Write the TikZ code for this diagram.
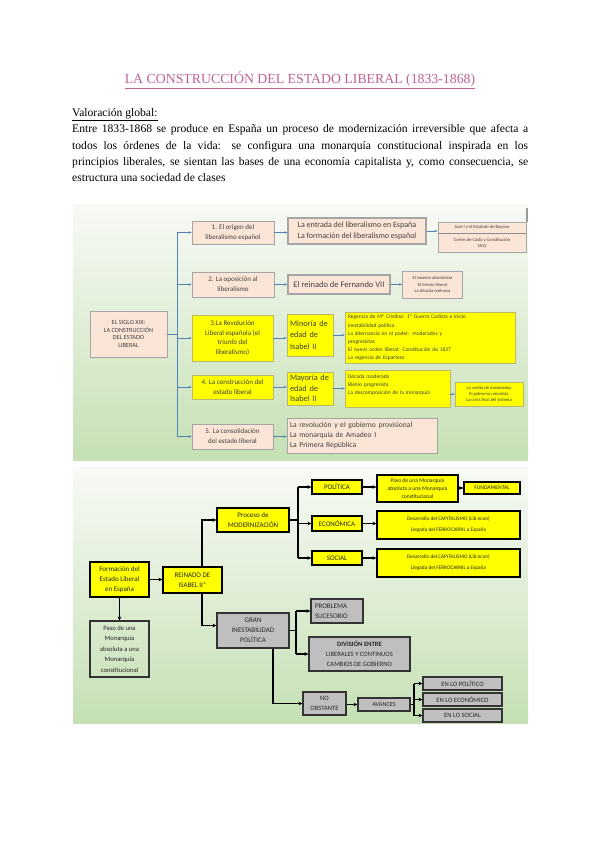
\documentclass[tikz,border=0pt]{standalone}
\usepackage{fontspec}
\setmainfont{Liberation Serif}
\newfontfamily\bxf{Carlito}
\usetikzlibrary{arrows.meta,calc}
\definecolor{titlepink}{RGB}{192,98,148}
\definecolor{peach}{RGB}{251,229,214}
\definecolor{pborder}{RGB}{165,165,165}
\definecolor{ybox}{RGB}{255,255,0}
\definecolor{yborder}{RGB}{185,185,110}
\definecolor{gbox}{RGB}{191,191,191}
\definecolor{arrowblue}{RGB}{79,129,189}
\definecolor{bgtop}{RGB}{248,250,246}
\definecolor{bgbot}{RGB}{197,224,180}
\definecolor{txtgray}{RGB}{64,64,64}
\newcommand\fz[2]{\fontsize{#1}{#2}\selectfont}
\begin{document}
\begin{tikzpicture}[x=1pt,y=-1pt,
  sz/.style 2 args={minimum width=#1pt,minimum height=#2pt},
  bx/.style={inner sep=0pt, align=center, font=\bxf},
  pch/.style={bx, draw=pborder, fill=peach, line width=0.8pt, text=txtgray},
  yel/.style={bx, draw=yborder, fill=ybox, line width=0.6pt, text=txtgray},
  yk/.style={bx, draw=black, fill=ybox, line width=1.1pt, text=black!85},
  gk/.style={bx, draw=black!80, fill=gbox, line width=1.1pt, text=black!85},
  ok/.style={bx, draw=black!80, line width=1.1pt, text=black!85},
  barr/.style={draw=arrowblue, line width=0.6pt, -{Stealth[length=3pt,width=2.4pt]}},
  bln/.style={draw=arrowblue, line width=0.6pt},
  karr/.style={draw=black, line width=1.3pt, -{Stealth[length=4pt,width=3.6pt]}},
  kln/.style={draw=black, line width=1.3pt},
]
\useasboundingbox (0,0) rectangle (600,848);
\fill[white] (0,0) rectangle (600,848);

% ---------- title and text ----------
\node[font=\fz{13.8}{16}, text=titlepink] (title) at (300,80)
  {\underline{LA CONSTRUCCIÓN DEL ESTADO LIBERAL (1833-1868)}};
\node[anchor=north west, text width=456pt, align=justify, inner sep=0pt,
  font=\fz{11.6}{16.2}] (intro) at (72,108.5)
  {\underline{Valoración global:}\\
   Entre 1833-1868 se produce en España un proceso de modernización irreversible que afecta a\linebreak
   todos los órdenes de la vida: se configura una monarquía constitucional inspirada en los\linebreak
   principios liberales, se sientan las bases de una economía capitalista y, como consecuencia, se\linebreak
   estructura una sociedad de clases};

% ---------- panel 1 ----------
\shade[top color=bgtop, bottom color=bgbot] (73,204) rectangle (528,460);
\fill[black!40] (526,208) rectangle (528,222);

\node[pch, sz={77}{46}, font=\bxf\fz{6.3}{7.6}] (root) at (128.5,334)
  {EL SIGLO XIX:\\ LA CONSTRUCCIÓN\\ DEL ESTADO\\ LIBERAL};
\node[pch, sz={82}{23}, font=\bxf\fz{7}{10}] (b1) at (233,232.5)
  {1. El origen del\\ liberalismo español};
\node[pch, sz={82}{25}, font=\bxf\fz{7}{10}] (b2) at (233,284.5)
  {2. La oposición al\\ liberalismo};
\node[yel, sz={81}{46}, font=\bxf\fz{7}{9.8}] (b3) at (232.5,338)
  {3.La Revolución\\ Liberal española (el\\ triunfo del\\ liberalismo)};
\node[yel, sz={81}{24}, font=\bxf\fz{7}{10}] (b4) at (232.5,387)
  {4. La construcción del\\ estado liberal};
\node[pch, sz={81}{25}, font=\bxf\fz{7}{10}] (b5) at (232.5,436.5)
  {5. La consolidación\\ del estado liberal};

\node[pch, sz={138}{26}, align=left, line width=1.1pt, font=\bxf\fz{8}{10.5}] (c1) at (357,231)
  {La entrada del liberalismo en España\\ La formación del liberalismo español};
\node[pch, sz={102}{19}, line width=1.1pt, font=\bxf\fz{8.5}{10}] (c2) at (339,284.5)
  {El reinado de Fernando VII};
\node[yel, sz={46}{42}, text width=40pt, align=left, font=\bxf\fz{8.3}{11.3}] (c3) at (310,335)
  {Minoría de\\ edad de\\ Isabel II};
\node[yel, sz={46}{33}, text width=40pt, align=left, font=\bxf\fz{8.3}{10.5}] (c4) at (310,388.5)
  {Mayoría de\\ edad de\\ Isabel II};
\node[pch, sz={150}{35}, text width=144pt, align=left, font=\bxf\fz{7.6}{9.6}] (c5) at (362,435.5)
  {La revolución y el gobierno provisional\\ La monarquía de Amadeo I\\ La Primera República};

\node[pch, sz={88}{11}, font=\bxf\fz{4.6}{5.5}] (d1a) at (482,227.5)
  {José I y el Estatuto de Bayona};
\node[pch, sz={88}{19}, font=\bxf\fz{4.6}{6.2}] (d1b) at (482,243)
  {Cortes de Cádiz y Constitución\\ 1812};
\draw[draw=black!45, line width=1.6pt] (d1a.south west) -- (d1a.south east);
\node[pch, sz={60}{27}, font=\bxf\fz{4.6}{6.4}] (d2) at (432.5,284.5)
  {El sexenio absolutista\\ El trienio liberal\\ La década ominosa};
\node[yel, sz={170}{51}, text width=164pt, align=left, font=\bxf\fz{5.5}{8.2}] (d3) at (430,338)
  {Regencia de Mª Cristina: 1ª Guerra Carlista e inicio\\ inestabilidad política\\
   La alternancia en el poder: moderados y\\ progresistas\\
   El nuevo orden liberal: Constitución de 1837\\ La regencia de Espartero};
\node[yel, sz={105}{37}, text width=99pt, align=left, font=\bxf\fz{5.5}{8}] (d4) at (397.5,388.5)
  {Década moderada\\ Bienio progresista\\ La descomposición de la monarquía\\ ~};
\node[yel, sz={68}{24}, font=\bxf\fz{4.6}{6.2}] (d5) at (489,394)
  {La vuelta de moderados\\ El gobierno unionista\\ La crisis final del sistema};

\coordinate (v1) at (177,0);
\draw[bln] (root.east) -- (root.east -| v1);
\draw[bln] (v1 |- b1.west) -- (v1 |- b5.west);
\foreach \n in {b1,b2,b3,b4,b5} \draw[barr] (v1 |- \n.west) -- (\n.west);
\draw[barr] (b1.east) -- (b1.east -| c1.west);
\draw[barr] (c1.east) -- (c1.east -| d1a.west);
\draw[barr] (b2.east) -- (c2.west);
\draw[barr] (c2.east) -- (c2.east -| d2.west);
\draw[barr] (b3.east) -- (b3.east -| c3.west);
\draw[barr] (c3.east) -- (c3.east -| d3.west);
\draw[barr] (b4.east) -- (b4.east -| c4.west);
\draw[barr] (c4.east) -- (c4.east -| d4.west);
\draw[barr] (d4.east |- d5.west) -- (d5.west);
\draw[barr] (b5.east) -- (b5.east -| c5.west);

% ---------- panel 2 ----------
\shade[top color=bgtop, bottom color=bgbot] (73,467) rectangle (528,723);

\node[yk, sz={59}{35}, font=\bxf\fz{7}{10}] (e1) at (119.5,579.5)
  {Formación del\\ Estado Liberal\\ en España};
\node[ok, sz={59}{56}, font=\bxf\fz{6.6}{10.4}] (e2) at (119.5,649)
  {Paso de una\\ Monarquía\\ absoluta a una\\ Monarquía\\ constitucional};
\node[yk, sz={59}{26}, font=\bxf\fz{7}{10}] (e3) at (192.5,580)
  {REINADO DE\\ ISABEL II*};
\node[yk, sz={72}{24}, font=\bxf\fz{7}{10}] (e4) at (253,520)
  {Proceso de\\ MODERNIZACIÓN};
\node[gk, sz={72}{35}, font=\bxf\fz{7}{10}] (e5) at (253,630.5)
  {GRAN\\ INESTABILIDAD\\ POLÍTICA};

\node[yk, sz={50}{14}, font=\bxf\fz{7}{8}] (f1) at (337,487)
  {POLÍTICA};
\node[yk, sz={50}{15}, font=\bxf\fz{7}{8}] (f2) at (337,523.5)
  {ECONÓMICA};
\node[yk, sz={50}{14}, font=\bxf\fz{7}{8}] (f3) at (337,558)
  {SOCIAL};
\node[yk, sz={81}{27}, font=\bxf\fz{5.6}{8}] (g1) at (417.5,488.5)
  {Paso de una Monarquía\\ absoluta a una Monarquía\\ constitucional};
\node[yk, sz={56}{12}, font=\bxf\fz{5.6}{7}] (g2) at (492,488)
  {FUNDAMENTAL};
\node[yk, sz={143}{28}, font=\bxf\fz{5.3}{7}] (g3) at (448.5,525)
  {Desarrollo del CAPITALISMO (Lib econ)\\[4pt] Llegada del FERROCARRIL a España};
\node[yk, sz={143}{28}, font=\bxf\fz{5.3}{7}] (g4) at (448.5,563)
  {Desarrollo del CAPITALISMO (Lib econ)\\[4pt] Llegada del FERROCARRIL a España};

\node[gk, sz={52}{24}, text width=44pt, align=left, font=\bxf\fz{7}{9.5}] (h1) at (337,611)
  {PROBLEMA\\ SUCESORIO};
\node[gk, sz={101}{34}, font=\bxf\fz{6.6}{10}] (h2) at (359.5,654)
  {\textbf{DIVISIÓN ENTRE}\\ LIBERALES Y CONTINUOS\\ CAMBIOS DE GOBIERNO};
\node[gk, sz={43}{23}, font=\bxf\fz{6.6}{9.5}] (h3) at (324.5,703.5)
  {NO\\ OBSTANTE};
\node[gk, sz={52}{13}, font=\bxf\fz{6.2}{7}] (h4) at (384,704.5)
  {AVANCES};
\node[gk, sz={79}{13}, font=\bxf\fz{6.6}{7}] (i1) at (462.5,683.5)
  {EN LO POLÍTICO};
\node[gk, sz={79}{13}, font=\bxf\fz{6.6}{7}] (i2) at (462.5,699.5)
  {EN LO ECONÓMICO};
\node[gk, sz={79}{13}, font=\bxf\fz{6.6}{7}] (i3) at (462.5,715.5)
  {EN LO SOCIAL};

\draw[karr] (e1.east) -- (e1.east -| e3.west);
\draw[karr] (e1.south) -- (e2.north);
\draw[karr] ($(e3.north)+(9.5,0)$) |- (e4.west);
\draw[karr] ($(e3.south)+(9.5,0)$) |- ($(e5.west)+(0,-5)$);

\coordinate (v2) at (298,0);
\draw[kln] (e4.east) -- (e4.east -| v2);
\draw[kln] (v2 |- f1.west) -- (v2 |- f3.west);
\foreach \n in {f1,f2,f3} \draw[karr] (v2 |- \n.west) -- (\n.west);
\draw[karr] (f1.east) -- (f1.east -| g1.west);
\draw[karr] (g1.east |- g2.west) -- (g2.west);
\draw[karr] (f2.east) -- (f2.east -| g3.west);
\draw[karr] (f3.east) -- (f3.east -| g4.west);

\coordinate (v3) at (296,0);
\draw[kln] (e5.east) -- (e5.east -| v3);
\draw[kln] (v3 |- h1.west) -- (v3 |- h2.west);
\foreach \n in {h1,h2} \draw[karr] (v3 |- \n.west) -- (\n.west);
\draw[karr] ($(e5.south)+(20,0)$) |- (h3.west);
\draw[karr] (h3.east |- h4.west) -- (h4.west);

\coordinate (v4) at (414,0);
\draw[kln] (h4.east) -- (h4.east -| v4);
\draw[kln] (v4 |- i1.west) -- (v4 |- i3.west);
\foreach \n in {i1,i2,i3} \draw[karr] (v4 |- \n.west) -- (\n.west);
\end{tikzpicture}
\end{document}
